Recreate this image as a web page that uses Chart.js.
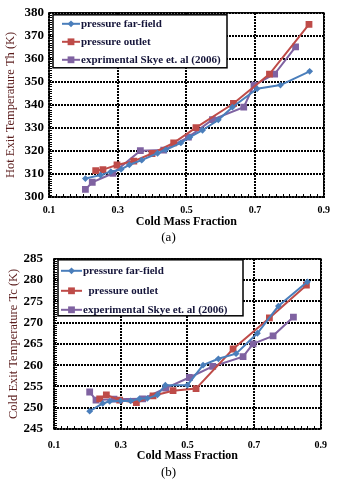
<!DOCTYPE html>
<html>
<head>
<meta charset="utf-8">
<script src="https://cdn.jsdelivr.net/npm/chart.js@4.4.1/dist/chart.umd.min.js"></script>
<style>
  html, body { margin: 0; padding: 0; background: #fff; }
  body { width: 337px; height: 480px; position: relative; overflow: hidden; font-family: 'Liberation Serif', serif; }
  .wrap { position: absolute; left: 0; width: 337px; height: 240px; }
  .cap { position: absolute; left: 0; width: 337px; text-align: center; font-size: 13px; line-height: 15px; color: #000; }
</style>
</head>
<body>
<div class="wrap" style="top:0"><canvas id="chartA" width="337" height="240"></canvas></div>
<div class="wrap" style="top:240px"><canvas id="chartB" width="337" height="240"></canvas></div>
<div class="cap" style="top:229px">(a)</div>
<div class="cap" style="top:464px">(b)</div>
<script>
/* global Chart */

// ---------- Data ----------

const X_TICKS = [0.1, 0.3, 0.5, 0.7, 0.9];
const Y_TICKS_A = [300, 310, 320, 330, 340, 350, 360, 370, 380];
const Y_TICKS_B = [245, 250, 255, 260, 265, 270, 275, 280, 285];

// (a) hot exit temperature
const farFieldHotX = [0.206, 0.25, 0.28, 0.31, 0.334, 0.37, 0.416, 0.44, 0.484, 0.51, 0.547, 0.593, 0.634, 0.706, 0.774, 0.859];
const farFieldHotY = [308, 309.5, 311, 312, 314, 316, 319, 320.5, 323.5, 326, 329, 333.5, 339, 347, 348.6, 354.6];
const outletHotX = [0.236, 0.257, 0.298, 0.347, 0.4, 0.463, 0.528, 0.637, 0.742, 0.857];
const outletHotY = [311.5, 311.9, 313.9, 315.6, 318.9, 323.5, 330.1, 340.6, 353.4, 375];
const skyeHotX = [0.206, 0.226, 0.286, 0.366, 0.434, 0.506, 0.576, 0.667, 0.697, 0.757, 0.818];
const skyeHotY = [303.3, 306.4, 310.3, 320.1, 320.4, 326, 333.6, 339, 348.6, 353.4, 365.2];

// (b) cold exit temperature
const farFieldColdX = [0.207, 0.246, 0.267, 0.3, 0.33, 0.356, 0.38, 0.41, 0.434, 0.5, 0.547, 0.593, 0.646, 0.71, 0.773, 0.86];
const farFieldColdY = [249.2, 251, 251.5, 251.6, 251.6, 252.1, 252.2, 253, 255.3, 255.3, 260, 261.5, 262.7, 267.5, 273.9, 279.6];
const outletColdX = [0.237, 0.257, 0.297, 0.347, 0.397, 0.457, 0.526, 0.637, 0.746, 0.857];
const outletColdY = [252.1, 253, 251.8, 251.2, 252.8, 254, 254.5, 263.8, 271.1, 278.8];
const skyeColdX = [0.207, 0.226, 0.28, 0.366, 0.435, 0.506, 0.576, 0.667, 0.697, 0.757, 0.818];
const skyeColdY = [253.7, 251.8, 252, 252.1, 254.6, 257.1, 259.7, 262, 265, 266.9, 271.3];

const LABELS_A = ['pressure far-field', 'pressure outlet', 'exprimental Skye et. al (2006)'];
const LABELS_B = ['pressure far-field', '  pressure outlet', 'experimental Skye et. al (2006)'];

// ---------- Styles ----------

const SERIES_STYLE = [
  { color: '#4a7ebb', pointStyle: 'rectRot', pointRadius: 3.4 },
  { color: '#be4b48', pointStyle: 'rect', pointRadius: 4.8 },
  { color: '#7f62a1', pointStyle: 'rect', pointRadius: 4.8 },
];
const SERIF = "'Liberation Serif', 'Times New Roman', serif";

function pts(xs, ys) {
  return xs.map((x, i) => ({ x, y: ys[i] }));
}

function markerPath(ctx, style, r, x, y) {
  ctx.beginPath();
  if (style === 'rectRot') {
    ctx.moveTo(x, y - r); ctx.lineTo(x + r, y); ctx.lineTo(x, y + r); ctx.lineTo(x - r, y);
    ctx.closePath();
  } else {
    const s = r * Math.SQRT1_2;
    ctx.rect(x - s, y - s, 2 * s, 2 * s);
  }
}

// ---------- Plugins ----------

// dotted grid at the major ticks, plot frame, small inward minor ticks
const framePlugin = {
  id: 'plotFrame',
  beforeDatasetsDraw(chart) {
    const { ctx, chartArea: a } = chart;
    const xs = chart.scales.x;
    const ys = chart.scales.y;
    const { minorX, minorY } = chart.options.plugins.plotFrame;
    ctx.save();
    ctx.fillStyle = '#000';

    // dotted grid: 2px dots, 1px gaps
    const left = Math.round(a.left), right = Math.round(a.right);
    const top = Math.round(a.top), bottom = Math.round(a.bottom);
    for (const t of xs.ticks) {
      const px = Math.round(xs.getPixelForValue(t.value));
      for (let yy = top; yy < bottom; yy += 3) ctx.fillRect(px - 1, yy, 2, 2);
    }
    for (const t of ys.ticks) {
      const py = Math.round(ys.getPixelForValue(t.value));
      for (let xx = left; xx < right; xx += 3) ctx.fillRect(xx, py - 1, 2, 2);
    }

    // minor ticks, pointing inward from bottom and left edges
    const nx = Math.round((xs.max - xs.min) / minorX);
    for (let i = 1; i < nx; i++) {
      const px = Math.round(xs.getPixelForValue(xs.min + i * minorX));
      ctx.fillRect(px, bottom - 3, 1, 3);
    }
    const ny = Math.round((ys.max - ys.min) / minorY);
    for (let i = 1; i < ny; i++) {
      const py = Math.round(ys.getPixelForValue(ys.min + i * minorY));
      ctx.fillRect(left, py, 3, 1);
    }

    // frame
    ctx.strokeStyle = '#000';
    ctx.lineWidth = 1.5;
    ctx.strokeRect(a.left, a.top, a.right - a.left, a.bottom - a.top);
    ctx.restore();
  },
};

// boxed legend sitting inside the plot area
const boxLegend = {
  id: 'boxLegend',
  afterDraw(chart) {
    const opts = chart.options.plugins.boxLegend;
    const { ctx, chartArea: a } = chart;
    const bx = a.left + opts.dx;
    const by = a.top + opts.dy;
    ctx.save();
    ctx.fillStyle = '#fff';
    ctx.fillRect(bx, by, opts.w, opts.h);
    ctx.strokeStyle = '#000';
    ctx.lineWidth = 1.5;
    ctx.strokeRect(bx, by, opts.w, opts.h);
    ctx.font = `bold 11px ${SERIF}`;
    ctx.textBaseline = 'middle';
    chart.data.datasets.forEach((ds, i) => {
      const ry = by + opts.rows[i];
      const x0 = bx + opts.lineX0;
      const x1 = bx + opts.lineX1;
      ctx.strokeStyle = ds.borderColor;
      ctx.lineWidth = 2;
      ctx.beginPath();
      ctx.moveTo(x0, ry);
      ctx.lineTo(x1, ry);
      ctx.stroke();
      ctx.fillStyle = ds.backgroundColor;
      markerPath(ctx, ds.pointStyle, ds.pointRadius, (x0 + x1) / 2, ry);
      ctx.fill();
      ctx.fillStyle = '#15153a';
      ctx.fillText(ds.label, bx + opts.textX, ry + 0.5);
    });
    ctx.restore();
  },
};

// ---------- Build ----------

function makeChart(canvasId, cfg) {
  const datasets = cfg.series.map((s, i) => ({
    label: cfg.labels[i],
    data: s,
    borderColor: SERIES_STYLE[i].color,
    backgroundColor: SERIES_STYLE[i].color,
    borderWidth: 2,
    pointStyle: SERIES_STYLE[i].pointStyle,
    pointRadius: SERIES_STYLE[i].pointRadius,
    pointBorderWidth: 0,
    tension: 0,
  }));

  return new Chart(document.getElementById(canvasId), {
    type: 'line',
    data: { datasets },
    options: {
      responsive: false,
      animation: false,
      layout: { padding: cfg.padding },
      plugins: {
        legend: { display: false },
        tooltip: { enabled: false },
        plotFrame: { minorX: 0.02, minorY: cfg.minorY },
        boxLegend: cfg.legend,
      },
      scales: {
        x: {
          type: 'linear',
          min: 0.1,
          max: 0.9,
          afterBuildTicks: s => { s.ticks = X_TICKS.map(v => ({ value: v })); },
          afterFit: s => { s.height = cfg.xHeight; },
          grid: { display: false, drawTicks: false },
          border: { display: false },
          ticks: {
            padding: cfg.xPad,
            color: '#000',
            maxRotation: 0,
            autoSkip: false,
            font: { family: SERIF, weight: 'bold', size: 10 },
            callback: v => v.toFixed(1),
          },
          title: {
            display: true,
            text: 'Cold Mass Fraction',
            color: '#000',
            padding: 0,
            font: { family: SERIF, weight: 'bold', size: 12 },
          },
        },
        y: {
          min: cfg.yTicks[0],
          max: cfg.yTicks[cfg.yTicks.length - 1],
          afterBuildTicks: s => { s.ticks = cfg.yTicks.map(v => ({ value: v })); },
          afterFit: s => { s.width = cfg.yWidth; },
          grid: { display: false, drawTicks: false },
          border: { display: false },
          ticks: {
            padding: cfg.yPad,
            color: '#000',
            autoSkip: false,
            font: { family: SERIF, weight: 'bold', size: 13 },
            callback: v => String(v),
          },
          title: {
            display: true,
            text: cfg.yTitle,
            color: '#5a1c1c',
            padding: { top: cfg.yTitlePad, bottom: 0 },
            font: { family: SERIF, size: 12.5 },
          },
        },
      },
    },
    plugins: [framePlugin, boxLegend],
  });
}

makeChart('chartA', {
  series: [pts(farFieldHotX, farFieldHotY), pts(outletHotX, outletHotY), pts(skyeHotX, skyeHotY)],
  labels: LABELS_A,
  yTicks: Y_TICKS_A,
  yTitle: 'Hot Exit Temperature Th (K)',
  minorY: 1,
  padding: { left: 0, right: 12, top: 11, bottom: 11 },
  xHeight: 32,
  yWidth: 49,
  xPad: 7,
  yPad: 5,
  yTitlePad: 3,
  legend: { dx: 4, dy: 2, w: 174, h: 53, rows: [9, 27, 45], lineX0: 9, lineX1: 27, textX: 28 },
});

makeChart('chartB', {
  series: [pts(farFieldColdX, farFieldColdY), pts(outletColdX, outletColdY), pts(skyeColdX, skyeColdY)],
  labels: LABELS_B,
  yTicks: Y_TICKS_B,
  yTitle: 'Cold Exit Temperature Tc (K)',
  minorY: 0.5,
  padding: { left: 0, right: 15, top: 17, bottom: 17 },
  xHeight: 34,
  yWidth: 54,
  xPad: 10,
  yPad: 11,
  yTitlePad: 6,
  legend: { dx: 4, dy: 1, w: 185, h: 56, rows: [11, 31, 50], lineX0: 3, lineX1: 24, textX: 25 },
});
</script>
</body>
</html>
